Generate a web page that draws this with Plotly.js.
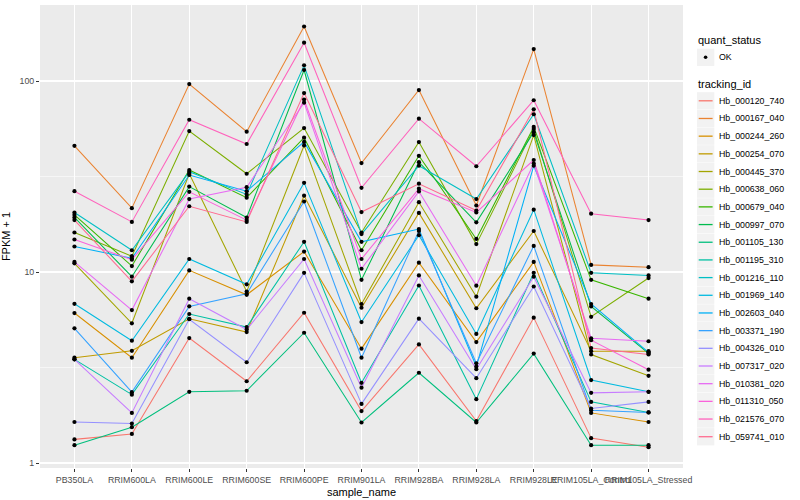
<!DOCTYPE html>
<html><head><meta charset="utf-8">
<script src="https://cdn.plot.ly/plotly-3.0.1.min.js"></script>
<style>html,body{margin:0;padding:0;background:#fff}#chart{width:800px;height:500px}</style>
</head><body><div id="chart"></div>
<script>
// ---- data ----
const sampleNames = ["PB350LA","RRIM600LA","RRIM600LE","RRIM600SE","RRIM600PE","RRIM901LA","RRIM928BA","RRIM928LA","RRIM928LE","RRIM105LA_Control","RRIM105LA_Stressed"];
const trackingIds = ["Hb_000120_740","Hb_000167_040","Hb_000244_260","Hb_000254_070","Hb_000445_370","Hb_000638_060","Hb_000679_040","Hb_000997_070","Hb_001105_130","Hb_001195_310","Hb_001216_110","Hb_001969_140","Hb_002603_040","Hb_003371_190","Hb_004326_010","Hb_007317_020","Hb_010381_020","Hb_011310_050","Hb_021576_070","Hb_059741_010"];
const quantStatus = ["OK"];

const Hb_000120_740 = [1.33, 1.42, 4.51, 2.68, 6.12, 1.87, 4.18, 1.66, 5.77, 1.35, 1.21];
const Hb_000167_040 = [45.8, 21.6, 96.4, 54.3, 193, 37.2, 89.7, 22.3, 147, 10.9, 10.6];
const Hb_000244_260 = [6.1, 3.56, 10.2, 7.6, 12.8, 3.97, 11.2, 4.3, 11.3, 1.83, 1.64];
const Hb_000254_070 = [3.56, 3.87, 5.69, 4.85, 25.1, 6.5, 20.4, 6.46, 16.4, 3.85, 3.85];
const Hb_000445_370 = [11.1, 5.39, 32.7, 7.9, 46, 6.8, 23.2, 7.43, 52.1, 3.7, 2.86];
const Hb_000638_060 = [16.1, 12.1, 54.7, 32.7, 56.7, 16.1, 47.9, 14.0, 56, 5.83, 9.3];
const Hb_000679_040 = [19.9, 10.75, 34.2, 24.5, 50.5, 13.0, 40.6, 14.9, 57.5, 9.1, 7.25];
const Hb_000997_070 = [19.3, 9.45, 28, 19.3, 114.2, 9.1, 37.6, 18.2, 54, 6.6, 3.75];
const Hb_001105_130 = [1.24, 1.54, 2.36, 2.39, 4.81, 1.63, 2.97, 1.63, 3.74, 1.24, 1.24];
const Hb_001195_310 = [3.49, 2.28, 6.03, 5.15, 14.4, 2.63, 8.5, 2.16, 9.9, 2.09, 1.84];
const Hb_001216_110 = [20.5, 13.0, 33.5, 25.5, 120.8, 15.8, 36, 24.1, 67, 9.9, 9.6];
const Hb_001969_140 = [6.82, 4.37, 11.7, 8.62, 29.3, 5.47, 15.6, 4.74, 21.2, 2.72, 2.36];
const Hb_002603_040 = [13.6, 11.8, 32.2, 26.5, 48, 14.4, 16.8, 3.2, 36, 6.8, 3.8];
const Hb_003371_190 = [5.07, 2.35, 6.61, 7.7, 23.4, 3.56, 16.4, 3.33, 13.7, 1.89, 1.84];
const Hb_004326_010 = [1.64, 1.61, 5.66, 3.37, 9.9, 2.04, 5.7, 2.78, 8.4, 1.93, 2.09];
const Hb_007317_020 = [3.49, 1.83, 7.25, 5.0, 11.7, 2.48, 9.6, 3.1, 9.45, 2.33, 2.36];
const Hb_010381_020 = [11.3, 6.32, 24.1, 27.8, 77, 10.4, 26.4, 8.48, 37, 4.5, 4.34];
const Hb_011310_050 = [14.8, 11.6, 26.3, 18.7, 80, 11.7, 27.3, 20.5, 38.6, 4.4, 3.08];
const Hb_021576_070 = [26.5, 18.3, 62.7, 46.8, 158.7, 27.6, 63.5, 35.8, 79.3, 20.2, 18.7];
const Hb_059741_010 = [18.7, 8.94, 22.1, 18.3, 86.5, 20.6, 29, 21, 71.1, 4.0, 3.7];

const seriesValues = [Hb_000120_740, Hb_000167_040, Hb_000244_260, Hb_000254_070, Hb_000445_370,
  Hb_000638_060, Hb_000679_040, Hb_000997_070, Hb_001105_130, Hb_001195_310, Hb_001216_110,
  Hb_001969_140, Hb_002603_040, Hb_003371_190, Hb_004326_010, Hb_007317_020, Hb_010381_020,
  Hb_011310_050, Hb_021576_070, Hb_059741_010];

// ---- style ----
const colors = ["#F8766D","#EA8331","#D89000","#C09B00","#A3A500","#7CAE00","#39B600","#00BB4E","#00BF7D","#00C1A3","#00BFC4","#00BAE0","#00B0F6","#35A2FF","#9590FF","#C77CFF","#E76BF3","#FA62DB","#FF62BC","#FF6C91"];
const FONT = "Liberation Sans, Arial, Helvetica, sans-serif";

const traces = [];
seriesValues.forEach((vals, i) => {
  traces.push({x: sampleNames, y: vals, type: 'scatter', mode: 'lines', name: trackingIds[i],
    line: {color: colors[i], width: 1.05}, showlegend: false, hoverinfo: 'skip'});
});
// points layer (quant_status = OK)
const px = [], py = [];
seriesValues.forEach(vals => vals.forEach((v, j) => { px.push(sampleNames[j]); py.push(v); }));
traces.push({x: px, y: py, type: 'scatter', mode: 'markers', name: quantStatus[0],
  marker: {color: 'black', size: 4.2}, showlegend: false, hoverinfo: 'skip'});

// ---- manual ggplot-like legend ----
const L = 40, R = 683, T = 5, B = 468;
const pxX = p => (p - L) / (R - L);
const pxY = p => (B - p) / (B - T);
const shapes = [], annotations = [];
function keyBox(cy) {
  shapes.push({type: 'rect', xref: 'paper', yref: 'paper', x0: pxX(697), x1: pxX(714.3),
    y0: pxY(cy + 8.64), y1: pxY(cy - 8.64), fillcolor: '#F2F2F2', line: {width: 0}});
}
function txt(x, y, s, size, color) {
  annotations.push({xref: 'paper', yref: 'paper', x: pxX(x), y: pxY(y), text: s, showarrow: false,
    xanchor: 'left', yanchor: 'middle', font: {family: FONT, size: size, color: color}});
}
txt(696, 40.5, 'quant_status', 11, '#000');
keyBox(57.3);
shapes.push({type: 'circle', xref: 'paper', yref: 'paper', x0: pxX(703.8), x1: pxX(707.4),
  y0: pxY(59.1), y1: pxY(55.5), fillcolor: 'black', line: {width: 0}});
txt(716.5, 57.3, quantStatus[0], 8.8, '#000');
txt(696, 83.5, 'tracking_id', 11, '#000');
trackingIds.forEach((id, i) => {
  const cy = 100.8 + i * 17.68;
  keyBox(cy);
  shapes.push({type: 'line', xref: 'paper', yref: 'paper', x0: pxX(698.7), x1: pxX(712.6),
    y0: pxY(cy), y1: pxY(cy), line: {color: colors[i], width: 1.3}});
  txt(716.5, cy, id, 8.8, '#000');
});

const layout = {
  width: 800, height: 500,
  margin: {l: L, r: 800 - R, t: T, b: 500 - B, pad: 0},
  paper_bgcolor: 'white', plot_bgcolor: '#EBEBEB',
  font: {family: FONT, size: 8.8, color: '#4D4D4D'},
  showlegend: false,
  xaxis: {type: 'category', range: [-0.6, 10.6], showgrid: true, gridcolor: 'white', gridwidth: 1.1,
    ticks: 'outside', ticklen: 3, tickcolor: '#333333', tickwidth: 1, tickangle: 0,
    tickfont: {family: FONT, size: 8.8, color: '#4D4D4D'}, zeroline: false, showline: false,
    automargin: false,
    title: {text: 'sample_name', font: {family: FONT, size: 11, color: '#000'}, standoff: 4}},
  yaxis: {type: 'log', range: [-0.026, 2.398], tickvals: [1, 10, 100], ticktext: ['1', '10', '100'],
    showgrid: true, gridcolor: 'white', gridwidth: 1.1, ticks: 'outside', ticklen: 3,
    tickcolor: '#333333', tickwidth: 1, zeroline: false, showline: false, automargin: false,
    tickfont: {family: FONT, size: 8.8, color: '#4D4D4D'},
    minor: {tickvals: [3.1623, 31.623], showgrid: true, gridcolor: 'white', gridwidth: 0.55, ticks: ''},
    title: {text: 'FPKM + 1', font: {family: FONT, size: 11, color: '#000'}, standoff: 6}},
  shapes: shapes, annotations: annotations
};

Plotly.newPlot('chart', traces, layout, {displayModeBar: false, staticPlot: true});
</script>
</body></html>
